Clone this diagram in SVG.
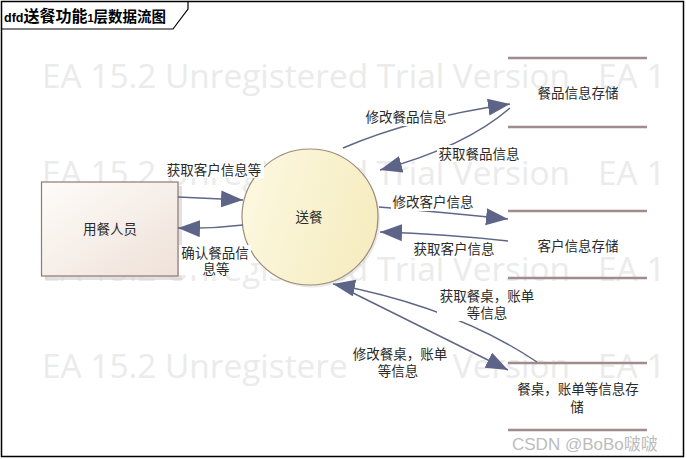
<svg xmlns="http://www.w3.org/2000/svg" width="687" height="459" viewBox="0 0 687 459">
<style>
.wm{font-family:"Open Sans","DejaVu Sans",sans-serif;font-size:33.4px;fill:#ebebeb}
.lbl{font-family:"Noto Sans CJK SC","Noto Sans",sans-serif;font-size:13.5px;fill:#2a2a2a;text-anchor:middle}
.bg{fill:#ffffff}
.conn{fill:none;stroke:#5f6688;stroke-width:1.5}
.store{stroke:#a08c8c;stroke-width:2.6}
</style>
<defs>
<marker id="ah" markerUnits="userSpaceOnUse" markerWidth="23" markerHeight="18" refX="22" refY="8.5" orient="auto">
<path d="M0,0 L22,8.5 L0,17 z" fill="#5d6488"/>
</marker>
<linearGradient id="boxg" x1="0" y1="0" x2="1" y2="1">
<stop offset="0" stop-color="#fefcf9"/>
<stop offset="1" stop-color="#efe1d8"/>
</linearGradient>
<linearGradient id="circg" x1="0" y1="0" x2="1" y2="0.3">
<stop offset="0" stop-color="#fdf9e3"/>
<stop offset="1" stop-color="#f6edc2"/>
</linearGradient>
</defs>
<rect width="687" height="459" fill="#ffffff"/>
<g id="watermark">
<text class="wm" x="42" y="88" textLength="528">EA 15.2 Unregistered Trial Version</text>
<text class="wm" x="598" y="88">EA 1</text>
<text class="wm" x="42" y="185" textLength="528">EA 15.2 Unregistered Trial Version</text>
<text class="wm" x="598" y="185">EA 1</text>
<text class="wm" x="42" y="281" textLength="528">EA 15.2 Unregistered Trial Version</text>
<text class="wm" x="598" y="281">EA 1</text>
<text class="wm" x="42" y="378" textLength="528">EA 15.2 Unregistered Trial Version</text>
<text class="wm" x="598" y="378">EA 1</text>
</g>
<g id="frame">
<rect x="1.5" y="1.5" width="682" height="455" fill="none" stroke="#000" stroke-width="1.5"/>
<polyline points="1.5,29 173,29 188,9 188,1.5" fill="none" stroke="#000" stroke-width="1.2"/>
<text x="4" y="22" font-family="'Liberation Sans','Noto Sans CJK SC',sans-serif" font-weight="bold" fill="#000"><tspan font-size="12.5">dfd</tspan><tspan font-size="16" font-family="'Noto Sans CJK SC',sans-serif">送餐功能</tspan><tspan font-size="11">1</tspan><tspan font-size="14.5" font-family="'Noto Sans CJK SC',sans-serif">层数据流图</tspan></text>
</g>
<g id="user">
<rect x="45" y="186" width="137" height="94" fill="#d6d6d6" opacity="0.7"/>
<rect x="41.5" y="182" width="136.5" height="94" fill="url(#boxg)" stroke="#8c7b74" stroke-width="1.2"/>
<text class="lbl" x="110" y="233.5">用餐人员</text>
</g>
<g id="deliver">
<circle cx="312" cy="219.5" r="68" fill="#dadada" opacity="0.6"/>
<circle cx="310" cy="217" r="68" fill="url(#circg)" stroke="#9c8c78" stroke-width="1.2"/>
<text class="lbl" x="309" y="222">送餐</text>
</g>
<g id="store-menu">
<line class="store" x1="508" y1="58" x2="647" y2="58"/>
<line class="store" x1="508" y1="127" x2="647" y2="127"/>
<text class="lbl" x="578" y="98">餐品信息存储</text>
</g>
<g id="store-customer">
<line class="store" x1="508" y1="211" x2="647" y2="211"/>
<line class="store" x1="508" y1="278" x2="647" y2="278"/>
<text class="lbl" x="578" y="251">客户信息存储</text>
</g>
<g id="store-table">
<line class="store" x1="508" y1="363" x2="647" y2="363"/>
<line class="store" x1="508" y1="430" x2="647" y2="430"/>
<text class="lbl" x="578" y="394">餐桌，账单等信息存</text>
<text class="lbl" x="577" y="412">储</text>
</g>
<g id="connectors">
<path class="conn" d="M178,197 L243,200" marker-end="url(#ah)"/>
<path class="conn" d="M243,225 Q210,229 178,228" marker-end="url(#ah)"/>
<path class="conn" d="M343,148 Q413,118 510,104" marker-end="url(#ah)"/>
<path class="conn" d="M510,108 Q465,147 380,170" marker-end="url(#ah)"/>
<path class="conn" d="M379,207 Q440,212 508,219" marker-end="url(#ah)"/>
<path class="conn" d="M508,241 Q445,234 380,232" marker-end="url(#ah)"/>
<path class="conn" d="M537,362 Q455,307 333,284" marker-end="url(#ah)"/>
<path class="conn" d="M337,285 L508,370" marker-end="url(#ah)"/>
</g>
<g id="labels">
<rect class="bg" x="164" y="161" width="100" height="17"/>
<text class="lbl" x="214" y="175">获取客户信息等</text>
<rect class="bg" x="179" y="245" width="72" height="30"/>
<text class="lbl" x="215" y="258">确认餐品信</text>
<text class="lbl" x="216" y="274">息等</text>
<rect class="bg" x="364" y="109" width="84" height="17"/>
<text class="lbl" x="406" y="122">修改餐品信息</text>
<rect class="bg" x="437" y="145" width="84" height="17"/>
<text class="lbl" x="479" y="159">获取餐品信息</text>
<rect class="bg" x="391" y="194" width="84" height="17"/>
<text class="lbl" x="433" y="207">修改客户信息</text>
<rect class="bg" x="412" y="241" width="84" height="17"/>
<text class="lbl" x="454" y="254">获取客户信息</text>
<rect class="bg" x="437" y="288" width="101" height="33"/>
<text class="lbl" x="487" y="301">获取餐桌，账单</text>
<text class="lbl" x="487" y="318">等信息</text>
<rect class="bg" x="349" y="346" width="101" height="33"/>
<text class="lbl" x="400" y="359">修改餐桌，账单</text>
<text class="lbl" x="398" y="376">等信息</text>
</g>
<g id="csdn">
<text x="512" y="450" font-family="'Liberation Sans','Noto Sans CJK SC',sans-serif" font-size="17" fill="#bcbcbc">CSDN @BoBo啵啵</text>
</g>
</svg>
